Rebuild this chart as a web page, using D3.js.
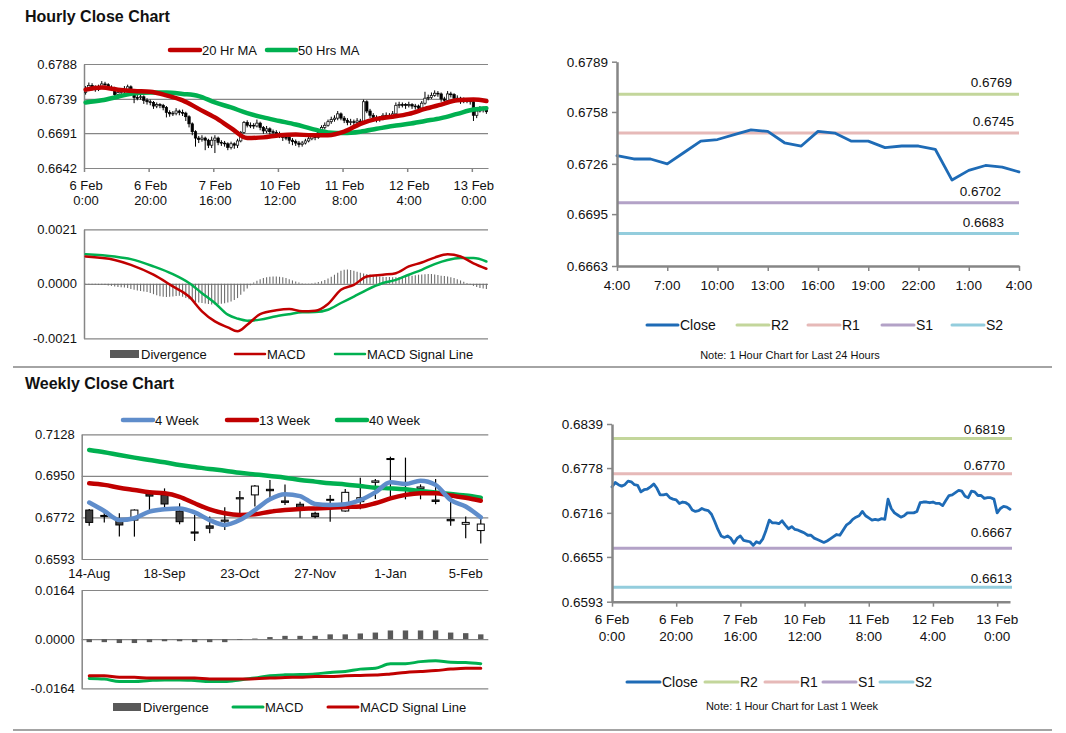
<!DOCTYPE html>
<html>
<head>
<meta charset="utf-8">
<script src="https://cdn.jsdelivr.net/npm/d3@7"></script>
<style>
  body { margin: 0; background: #fff; }
  svg text { font-family: "Liberation Sans", Arial, sans-serif; fill: #111; }
</style>
</head>
<body>
<svg id="chart"></svg>
<script>
const width = 1066;
const height = 733;

// ---- hourly data: 6 Feb 0:00 .. 13 Feb 4:00 (125 bars, weekend skipped)
const hourlyClose = [
  0.6752, 0.6758, 0.6755, 0.6753, 0.6755, 0.6760, 0.6759, 0.6755, 0.6754, 0.6745,
  0.6748, 0.6749, 0.6752, 0.6756, 0.6750, 0.6741, 0.6741, 0.6742, 0.6737, 0.6735,
  0.6734, 0.6729, 0.6731, 0.6730, 0.6727, 0.6720, 0.6718, 0.6719, 0.6722, 0.6720,
  0.6719, 0.6714, 0.6704, 0.6693, 0.6684, 0.6682, 0.6684, 0.6681, 0.6674, 0.6681,
  0.6684, 0.6678, 0.6677, 0.6676, 0.6671, 0.6676, 0.6674, 0.6680, 0.6692, 0.6706,
  0.6702, 0.6702, 0.6701, 0.6705, 0.6699, 0.6694, 0.6697, 0.6693, 0.6692, 0.6690,
  0.6688, 0.6685, 0.6685, 0.6681, 0.6679, 0.6677, 0.6675, 0.6677, 0.6680, 0.6683,
  0.6686, 0.6685, 0.6692, 0.6699, 0.6702, 0.6707, 0.6710, 0.6712, 0.6718, 0.6712,
  0.6709, 0.6706, 0.6707, 0.6706, 0.6708, 0.6707, 0.6735, 0.6722, 0.6716, 0.6713,
  0.6710, 0.6712, 0.6716, 0.6716, 0.6716, 0.6718, 0.6730, 0.6731, 0.6731, 0.6730,
  0.6731, 0.6729, 0.6729, 0.6726, 0.6733, 0.6740, 0.6741, 0.6744, 0.6747, 0.6746,
  0.6739, 0.6737, 0.6746, 0.6745, 0.6740, 0.6740, 0.6736, 0.6737, 0.6737, 0.6735,
  0.6716, 0.6722, 0.6725, 0.6724, 0.6721
];
const hourlyHigh = [
  0.6757, 0.6762, 0.6761, 0.6758, 0.6759, 0.6764, 0.6763, 0.6761, 0.6758, 0.6756,
  0.6751, 0.6752, 0.6757, 0.6759, 0.6758, 0.6752, 0.6745, 0.6746, 0.6744, 0.6740,
  0.6738, 0.6736, 0.6734, 0.6733, 0.6732, 0.6729, 0.6723, 0.6722, 0.6726, 0.6724,
  0.6724, 0.6721, 0.6716, 0.6706, 0.6695, 0.6687, 0.6688, 0.6686, 0.6683, 0.6686,
  0.6688, 0.6686, 0.6681, 0.6680, 0.6678, 0.6679, 0.6678, 0.6683, 0.6694, 0.6708,
  0.6709, 0.6706, 0.6705, 0.6710, 0.6707, 0.6701, 0.6701, 0.6699, 0.6696, 0.6695,
  0.6693, 0.6690, 0.6689, 0.6687, 0.6684, 0.6682, 0.6680, 0.6680, 0.6683, 0.6686,
  0.6689, 0.6689, 0.6695, 0.6702, 0.6706, 0.6710, 0.6714, 0.6716, 0.6722, 0.6720,
  0.6715, 0.6712, 0.6711, 0.6710, 0.6712, 0.6711, 0.6738, 0.6737, 0.6725, 0.6719,
  0.6716, 0.6715, 0.6719, 0.6720, 0.6719, 0.6722, 0.6734, 0.6735, 0.6734, 0.6733,
  0.6735, 0.6733, 0.6732, 0.6731, 0.6736, 0.6749, 0.6745, 0.6748, 0.6751, 0.6750,
  0.6748, 0.6742, 0.6750, 0.6749, 0.6747, 0.6744, 0.6742, 0.6741, 0.6740, 0.6739,
  0.6737, 0.6726, 0.6729, 0.6728, 0.6727
];
const hourlyLow = [
  0.6745, 0.6750, 0.6751, 0.6749, 0.6750, 0.6753, 0.6755, 0.6752, 0.6750, 0.6741,
  0.6742, 0.6745, 0.6747, 0.6750, 0.6746, 0.6733, 0.6737, 0.6738, 0.6732, 0.6731,
  0.6730, 0.6725, 0.6726, 0.6726, 0.6723, 0.6713, 0.6714, 0.6715, 0.6716, 0.6716,
  0.6715, 0.6708, 0.6699, 0.6688, 0.6672, 0.6677, 0.6679, 0.6667, 0.6670, 0.6670,
  0.6663, 0.6674, 0.6673, 0.6672, 0.6667, 0.6668, 0.6669, 0.6670, 0.6678, 0.6690,
  0.6699, 0.6698, 0.6697, 0.6699, 0.6695, 0.6690, 0.6691, 0.6689, 0.6688, 0.6686,
  0.6684, 0.6680, 0.6681, 0.6676, 0.6674, 0.6673, 0.6671, 0.6672, 0.6675, 0.6678,
  0.6681, 0.6681, 0.6683, 0.6690, 0.6696, 0.6700, 0.6704, 0.6707, 0.6709, 0.6709,
  0.6705, 0.6702, 0.6702, 0.6702, 0.6703, 0.6703, 0.6705, 0.6719, 0.6712, 0.6709,
  0.6706, 0.6707, 0.6709, 0.6712, 0.6712, 0.6713, 0.6715, 0.6726, 0.6727, 0.6725,
  0.6727, 0.6725, 0.6724, 0.6722, 0.6724, 0.6731, 0.6737, 0.6739, 0.6742, 0.6742,
  0.6735, 0.6733, 0.6735, 0.6741, 0.6736, 0.6736, 0.6732, 0.6733, 0.6733, 0.6731,
  0.6708, 0.6712, 0.6720, 0.6720, 0.6718
];
const firstOpen = 0.6748; // open of the first bar, later bars open at the previous close

const hourTickIdx = [0, 20, 40, 60, 80, 100, 120];
const hourTickLabels = [
  ["6 Feb", "0:00"], ["6 Feb", "20:00"], ["7 Feb", "16:00"], ["10 Feb", "12:00"],
  ["11 Feb", "8:00"], ["12 Feb", "4:00"], ["13 Feb", "0:00"]
];

// moving averages read every 5 bars
const maIdx = [0, 5, 10, 15, 20, 25, 30, 35, 40, 45, 50, 55, 60, 65, 70, 75, 80, 85, 90, 95, 100, 105, 110, 115, 120, 124];
const ma20 = [0.6752, 0.6755, 0.6752, 0.6750, 0.6749, 0.6744, 0.6737, 0.6725, 0.6713, 0.6698, 0.6684, 0.6685, 0.6688,
  0.6689, 0.6688, 0.6688, 0.6693, 0.6704, 0.6711, 0.6714, 0.6718, 0.6725, 0.6731, 0.6737, 0.6738, 0.6736];
const ma50 = [0.6734, 0.6737, 0.6742, 0.6747, 0.6748, 0.6748, 0.6746, 0.6743, 0.6734, 0.6727, 0.6719, 0.6713, 0.6708,
  0.6703, 0.6697, 0.6692, 0.6691, 0.6693, 0.6697, 0.6701, 0.6704, 0.6708, 0.6712, 0.6718, 0.6724, 0.6726];

// hourly MACD
const macdIdx = [0, 9, 14, 21, 27, 32, 36, 40, 44, 47, 50, 54, 59, 63, 67, 71, 75, 79, 83, 87, 92, 96, 100, 104, 108, 112, 116, 120, 124];
const hMacd = [0.00105, 0.00092, 0.00073, 0.00035, -0.0001, -0.00049, -0.00106, -0.00145, -0.00168, -0.00183,
  -0.00158, -0.00117, -0.00102, -0.00097, -0.00106, -0.00104, -0.00078, -0.00023, -0.00004, 0.00028,
  0.00035, 0.00041, 0.00067, 0.00082, 0.00101, 0.00114, 0.00105, 0.00079, 0.00058];
const hSignal = [0.00114, 0.00105, 0.00095, 0.00067, 0.00037, 0.00003, -0.00036, -0.00074, -0.00119, -0.00134,
  -0.00142, -0.00138, -0.00125, -0.00117, -0.0011, -0.00109, -0.001, -0.00074, -0.00049, -0.00023,
  0.00003, 0.00015, 0.00035, 0.00054, 0.00076, 0.00092, 0.00099, 0.00099, 0.00086];
const hDivergence = [
  -0.00002, -0.00002, -0.00003, -0.00003, -0.00004, -0.00004, -0.00005,
  -0.00007, -0.00008, -0.0001, -0.00012, -0.00013, -0.00014, -0.00016,
  -0.0002, -0.00023, -0.00026, -0.00028, -0.0003, -0.00032, -0.00035,
  -0.0004, -0.00044, -0.00048, -0.0005, -0.00051, -0.0005,
  -0.00049, -0.00047, -0.00046, -0.0005, -0.00055,
  -0.0006, -0.00065, -0.0007, -0.00072, -0.00074, -0.00076,
  -0.00078, -0.0008, -0.0008, -0.00079, -0.00077, -0.00075,
  -0.00072, -0.00068, -0.00062, -0.00055,
  -0.00042, -0.0003, -0.00018, -0.00006,
  0.00005, 0.00012, 0.00018, 0.00022, 0.00025,
  0.00027, 0.00028, 0.00028, 0.00027, 0.00025, 0.00022, 0.00018,
  0.00013, 0.00009, 0.00005,
  0.00002, 0.00001, 0.00001, 0.00002, 0.00004, 0.00007,
  0.0001, 0.00015, 0.0002, 0.00027, 0.00035, 0.00043,
  0.0005, 0.00054, 0.00055, 0.00053, 0.0005,
  0.00046, 0.00043, 0.0004, 0.00038, 0.00036, 0.00033,
  0.0003, 0.00028, 0.00027, 0.00026, 0.00026, 0.00025, 0.00025,
  0.00026, 0.00027, 0.00028, 0.0003, 0.00031, 0.00033, 0.00035,
  0.00036, 0.00037, 0.00038, 0.00038, 0.00036, 0.00034, 0.00031,
  0.0003, 0.00028, 0.00025, 0.00022, 0.00018, 0.00013,
  0.00008, 0.00003, -0.00003, -0.00008,
  -0.00012, -0.00016, -0.00018, -0.0002
];

// last 24 hours chart (12 Feb 4:00 .. 13 Feb 4:00)
const dayStart = 100;
const dayTickIdx = [0, 3, 6, 9, 12, 15, 18, 21, 24];
const dayTickLabels = ["4:00", "7:00", "10:00", "13:00", "16:00", "19:00", "22:00", "1:00", "4:00"];
const dayLevelNames = ["R2", "R1", "S1", "S2"];
const dayLevels = [0.6769, 0.6745, 0.6702, 0.6683];
const weekLevels = [0.6819, 0.6770, 0.6667, 0.6613];

// ---- weekly data
const weekDates = ["14-Aug", "21-Aug", "28-Aug", "4-Sep", "11-Sep", "18-Sep", "25-Sep", "2-Oct", "9-Oct",
  "16-Oct", "23-Oct", "30-Oct", "6-Nov", "13-Nov", "20-Nov", "27-Nov", "4-Dec", "11-Dec", "18-Dec",
  "25-Dec", "1-Jan", "8-Jan", "15-Jan", "22-Jan", "29-Jan", "5-Feb", "12-Feb"];
const weekTickIdx = [0, 5, 10, 15, 20, 25];
const wOpen = [0.6803, 0.6780, 0.6760, 0.6760, 0.6871, 0.6868, 0.6799, 0.6709, 0.6735, 0.6755, 0.6851, 0.6868, 0.6892,
  0.6842, 0.6828, 0.6789, 0.6845, 0.6799, 0.6839, 0.6922, 0.7021, 0.6917, 0.6896, 0.6846, 0.6763, 0.6742, 0.6715];
const wHigh = [0.6808, 0.6799, 0.6789, 0.6806, 0.6885, 0.6896, 0.6832, 0.6782, 0.6775, 0.6815, 0.6885, 0.6911, 0.6932,
  0.6913, 0.6839, 0.6796, 0.6868, 0.6893, 0.6942, 0.6936, 0.7032, 0.7028, 0.6913, 0.6936, 0.6879, 0.6775, 0.6768];
const wLow = [0.6736, 0.6750, 0.6689, 0.6689, 0.6799, 0.6810, 0.6742, 0.6670, 0.6703, 0.6717, 0.6782, 0.6818, 0.6850,
  0.6825, 0.6770, 0.6768, 0.6753, 0.6796, 0.6806, 0.6850, 0.6853, 0.6849, 0.6849, 0.6828, 0.6736, 0.6682, 0.6660];
const wClose = [0.6750, 0.6777, 0.6739, 0.6803, 0.6863, 0.6829, 0.6753, 0.6704, 0.6725, 0.6760, 0.6856, 0.6906, 0.6886,
  0.6836, 0.6813, 0.6775, 0.6849, 0.6879, 0.6856, 0.6928, 0.7024, 0.6914, 0.6902, 0.6840, 0.6757, 0.6750, 0.6743];
const wma4 = [0.6835, 0.6799, 0.6760, 0.6768, 0.6796, 0.6806, 0.6810, 0.6793, 0.6760, 0.6739, 0.6760, 0.6803, 0.6849,
  0.6871, 0.6863, 0.6829, 0.6825, 0.6828, 0.6846, 0.6879, 0.6922, 0.6915, 0.6929, 0.6911, 0.6846, 0.6818, 0.6772];
const wma13 = [0.6918, 0.6911, 0.6899, 0.6889, 0.6879, 0.6875, 0.6860, 0.6832, 0.6806, 0.6789, 0.6782, 0.6785, 0.6796,
  0.6803, 0.6808, 0.6810, 0.6813, 0.6816, 0.6818, 0.6832, 0.6853, 0.6868, 0.6875, 0.6875, 0.6865, 0.6856, 0.6843];
const wma40 = [0.7061, 0.7051, 0.7039, 0.7028, 0.7018, 0.7008, 0.6996, 0.6988, 0.6979, 0.6972, 0.6963, 0.6956, 0.6949,
  0.6942, 0.6932, 0.6925, 0.6918, 0.6913, 0.6906, 0.6899, 0.6896, 0.6892, 0.6885, 0.6878, 0.6872, 0.6865, 0.6856];
const wDivergence = [-0.0010, -0.0010, -0.0013, -0.0013, -0.0010, -0.0007, -0.0007, -0.0010, -0.0010, -0.0010, -0.0002,
  0.0002, 0.0007, 0.0011, 0.0011, 0.0011, 0.0016, 0.0016, 0.0019, 0.0022, 0.0029, 0.0029, 0.0029, 0.0029, 0.0022, 0.0020, 0.0016];
const wMacd = [-0.0131, -0.0133, -0.0141, -0.0141, -0.0138, -0.0136, -0.0136, -0.0138, -0.0141, -0.0141, -0.0136, -0.0130,
  -0.0122, -0.0119, -0.0118, -0.0116, -0.0111, -0.0108, -0.0100, -0.0097, -0.0082, -0.0082, -0.0075, -0.0072, -0.0077, -0.0078, -0.0082];
const wSignal = [-0.0122, -0.0122, -0.0127, -0.0127, -0.0130, -0.0130, -0.0130, -0.0130, -0.0133, -0.0133, -0.0133, -0.0132,
  -0.0130, -0.0128, -0.0127, -0.0125, -0.0125, -0.0122, -0.0121, -0.0120, -0.0116, -0.0111, -0.0108, -0.0105, -0.0100, -0.0097, -0.0097];

// ticks of the value axes
const hPriceTicks = [0.6642, 0.6691, 0.6739, 0.6788];
const hMacdTicks = [-0.0021, 0, 0.0021];
const dayTicks = [0.6663, 0.6695, 0.6726, 0.6758, 0.6789];
const wPriceTicks = [0.6593, 0.6772, 0.6950, 0.7128];
const wMacdTicks = [-0.0164, 0, 0.0164];
const weekTicks = [0.6593, 0.6655, 0.6716, 0.6778, 0.6839];

const RED = "#C00000";
const GREEN = "#00B050";
const BLUE = "#5F8DCB";
const CLOSE = "#1E6BB6";
const GRID = "#868686";
const levelColors = ["#C3D69B", "#E6B9B8", "#B3A2C7", "#93CDDD"];
const fmt = (d) => d.toFixed(4);

const svg = d3.select("#chart").attr("width", width).attr("height", height);

// y axis with gridlines across the plot
function gridAxis(y, ticks, x0, x1) {
  const g = svg.append("g")
    .attr("transform", `translate(${x0},0)`)
    .call(d3.axisLeft(y).tickValues(ticks).tickFormat(fmt)
      .tickSizeInner(-(x1 - x0)).tickSizeOuter(0).tickPadding(7));
  g.select(".domain").attr("stroke", GRID).attr("stroke-width", 1.5);
  g.selectAll(".tick line").attr("stroke", GRID).attr("stroke-width", 1.2);
  g.selectAll(".tick text").attr("font-size", 13);
  return g;
}

// y axis with outside tick marks only
function plainAxis(y, ticks, x0) {
  const g = svg.append("g")
    .attr("transform", `translate(${x0},0)`)
    .call(d3.axisLeft(y).tickValues(ticks).tickFormat(fmt).tickSizeInner(5).tickSizeOuter(0).tickPadding(4));
  g.select(".domain").attr("stroke", GRID).attr("stroke-width", 2.5);
  g.selectAll(".tick line").attr("stroke", GRID).attr("stroke-width", 1.5);
  g.selectAll(".tick text").attr("font-size", 13.5);
  return g;
}

// bottom axis with ticks, labels drawn separately
function bottomTicks(x, ticks, y0, size) {
  const g = svg.append("g")
    .attr("transform", `translate(0,${y0})`)
    .call(d3.axisBottom(x).tickValues(ticks).tickFormat("").tickSizeInner(size).tickSizeOuter(0));
  g.select(".domain").attr("stroke", GRID).attr("stroke-width", 2);
  g.selectAll(".tick line").attr("stroke", GRID).attr("stroke-width", 1.5);
  return g;
}

function twoLineLabels(xs, labels, y1, y2, size) {
  labels.forEach((l, k) => {
    const t = svg.append("text").attr("text-anchor", "middle").attr("font-size", size);
    t.append("tspan").attr("x", xs[k]).attr("y", y1).text(l[0]);
    t.append("tspan").attr("x", xs[k]).attr("y", y2).text(l[1]);
  });
}

function legendLine(x1, x2, y, color, w, label, size) {
  svg.append("line").attr("x1", x1).attr("x2", x2).attr("y1", y).attr("y2", y)
    .attr("stroke", color).attr("stroke-width", w).attr("stroke-linecap", "round");
  svg.append("text").attr("x", x2 + 2).attr("y", y + 4.5).attr("font-size", size || 13).text(label);
}

function legendBox(x1, x2, y, label) {
  svg.append("rect").attr("x", x1).attr("y", y - 4).attr("width", x2 - x1).attr("height", 8).attr("fill", "#595959");
  svg.append("text").attr("x", x2 + 2).attr("y", y + 4.5).attr("font-size", 13).text(label);
}

function drawLine(points, x, y, color, w, curve) {
  svg.append("path").datum(points)
    .attr("fill", "none").attr("stroke", color).attr("stroke-width", w)
    .attr("stroke-linejoin", "round").attr("stroke-linecap", "round")
    .attr("d", d3.line().x((d) => x(d[0])).y((d) => y(d[1])).curve(curve || d3.curveLinear));
}

// ---- headers and separators
svg.append("text").attr("x", 25).attr("y", 22).attr("font-size", 16).attr("font-weight", "bold").text("Hourly Close Chart");
svg.append("text").attr("x", 25).attr("y", 389).attr("font-size", 16).attr("font-weight", "bold").text("Weekly Close Chart");
[367, 730].forEach((yy) => {
  svg.append("line").attr("x1", 13).attr("x2", 1052).attr("y1", yy).attr("y2", yy)
    .attr("stroke", GRID).attr("stroke-width", 1.5);
});

// ---- hourly candles with moving averages
const xH = d3.scaleLinear().domain([0, hourlyClose.length]).range([84, 488]);
const yH = d3.scaleLinear().domain([0.6642, 0.6788]).range([168, 64]);
gridAxis(yH, hPriceTicks, 84, 488);
bottomTicks(xH, hourTickIdx, 168, 4).select(".domain").attr("stroke-width", 1.2);
twoLineLabels(hourTickIdx.map((i) => xH(i) + 2), hourTickLabels, 190, 205, 13);

const candles = svg.append("g");
hourlyClose.forEach((c, i) => {
  const o = i === 0 ? firstOpen : hourlyClose[i - 1];
  const cx = xH(i + 0.5);
  candles.append("line").attr("x1", cx).attr("x2", cx)
    .attr("y1", yH(hourlyHigh[i])).attr("y2", yH(hourlyLow[i]))
    .attr("stroke", "#000").attr("stroke-width", 1);
  const top = yH(Math.max(o, c));
  const h = Math.max(0.8, Math.abs(yH(o) - yH(c)));
  candles.append("rect").attr("x", cx - 1.2).attr("y", top).attr("width", 2.4).attr("height", h)
    .attr("fill", c > o ? "#fff" : "#000").attr("stroke", "#000").attr("stroke-width", 0.7);
});
drawLine(maIdx.map((i, k) => [i + 0.5, ma50[k]]), xH, yH, GREEN, 4.5, d3.curveMonotoneX);
drawLine(maIdx.map((i, k) => [i + 0.5, ma20[k]]), xH, yH, RED, 4.5, d3.curveMonotoneX);
legendLine(170, 200, 50, RED, 4.5, "20 Hr MA");
legendLine(267, 296, 50, GREEN, 4.5, "50 Hrs MA");

// ---- hourly MACD
const yHM = d3.scaleLinear().domain([-0.0021, 0.0021]).range([338.3, 229.3]);
gridAxis(yHM, hMacdTicks, 84, 488);
svg.append("g").selectAll("line").data(hDivergence).join("line")
  .attr("x1", (d, i) => xH(i + 0.5)).attr("x2", (d, i) => xH(i + 0.5))
  .attr("y1", yHM(0)).attr("y2", (d) => yHM(d))
  .attr("stroke", "#6e6e6e").attr("stroke-width", 1.1);
drawLine(macdIdx.map((i, k) => [i + 0.5, hSignal[k]]), xH, yHM, GREEN, 2.5, d3.curveMonotoneX);
drawLine(macdIdx.map((i, k) => [i + 0.5, hMacd[k]]), xH, yHM, RED, 2.5, d3.curveMonotoneX);
legendBox(110, 139, 354, "Divergence");
legendLine(235, 265, 354, RED, 2.5, "MACD");
legendLine(335, 365, 354, GREEN, 2.5, "MACD Signal Line");

// ---- last 24 hours with pivot levels
const dayClose = hourlyClose.slice(dayStart);
const xD = d3.scaleLinear().domain([0, 24]).range([617, 1019]);
const yD = d3.scaleLinear().domain([0.6663, 0.6789]).range([266, 61.7]);
dayLevels.forEach((v, k) => {
  svg.append("line").attr("x1", xD(0)).attr("x2", xD(24)).attr("y1", yD(v)).attr("y2", yD(v))
    .attr("stroke", levelColors[k]).attr("stroke-width", 3);
});
drawLine(dayClose.map((v, i) => [i, v]), xD, yD, CLOSE, 2.8);
plainAxis(yD, dayTicks, 617);
bottomTicks(xD, dayTickIdx, 266, 5).select(".domain").attr("stroke-width", 2.5);
dayTickIdx.forEach((i, k) => {
  svg.append("text").attr("x", xD(i)).attr("y", 290).attr("text-anchor", "middle").attr("font-size", 13.5).text(dayTickLabels[k]);
});
const dayLabelX = [1012, 1014, 1001, 1004];
dayLevels.forEach((v, k) => {
  svg.append("text").attr("x", dayLabelX[k]).attr("y", yD(v) - 7).attr("text-anchor", "end")
    .attr("font-size", 13.5).text(fmt(v));
});
legendLine(647, 678, 325, CLOSE, 3, "Close", 14);
dayLevelNames.forEach((n, k) => {
  const lx = [737, 808, 882, 952][k];
  legendLine(lx, lx + 32, 325, levelColors[k], 3, n, 14);
});
svg.append("text").attr("x", 790).attr("y", 359).attr("text-anchor", "middle").attr("font-size", 11)
  .text("Note: 1 Hour Chart for Last 24 Hours");

// ---- weekly candles with moving averages
const xW = d3.scaleLinear().domain([0, weekDates.length]).range([81.7, 488.3]);
const yW = d3.scaleLinear().domain([0.6593, 0.7128]).range([559, 434.3]);
gridAxis(yW, wPriceTicks, 81.7, 488.3);
weekTickIdx.forEach((i) => {
  svg.append("text").attr("x", xW(i + 0.5)).attr("y", 578).attr("text-anchor", "middle").attr("font-size", 13).text(weekDates[i]);
});
const wc = svg.append("g");
wClose.forEach((c, i) => {
  const o = wOpen[i];
  const cx = xW(i + 0.5);
  wc.append("line").attr("x1", cx).attr("x2", cx).attr("y1", yW(wHigh[i])).attr("y2", yW(wLow[i]))
    .attr("stroke", "#000").attr("stroke-width", 1.2);
  const top = yW(Math.max(o, c));
  const h = Math.max(1, Math.abs(yW(o) - yW(c)));
  wc.append("rect").attr("x", cx - 3.5).attr("y", top).attr("width", 7).attr("height", h)
    .attr("fill", c > o ? "#fff" : "#404040").attr("stroke", "#000").attr("stroke-width", 1);
});
drawLine(wma40.map((v, i) => [i + 0.5, v]), xW, yW, GREEN, 4.5, d3.curveMonotoneX);
drawLine(wma13.map((v, i) => [i + 0.5, v]), xW, yW, RED, 4.5, d3.curveMonotoneX);
drawLine(wma4.map((v, i) => [i + 0.5, v]), xW, yW, BLUE, 4.5, d3.curveMonotoneX);
legendLine(123, 153, 420, BLUE, 4.5, "4 Week");
legendLine(227, 257, 420, RED, 4.5, "13 Week");
legendLine(337, 367, 420, GREEN, 4.5, "40 Week");

// ---- weekly MACD
const yWM = d3.scaleLinear().domain([-0.0164, 0.0164]).range([688.3, 590]);
gridAxis(yWM, wMacdTicks, 81.7, 488.3);
svg.append("g").selectAll("rect").data(wDivergence).join("rect")
  .attr("x", (d, i) => xW(i + 0.5) - 2.7).attr("width", 5.4)
  .attr("y", (d) => Math.min(yWM(0), yWM(d))).attr("height", (d) => Math.abs(yWM(d) - yWM(0)))
  .attr("fill", "#595959");
drawLine(wMacd.map((v, i) => [i + 0.5, v]), xW, yWM, GREEN, 3, d3.curveMonotoneX);
drawLine(wSignal.map((v, i) => [i + 0.5, v]), xW, yWM, RED, 3, d3.curveMonotoneX);
legendBox(113, 141, 707, "Divergence");
legendLine(233, 263, 707, GREEN, 3, "MACD");
legendLine(328, 358, 707, RED, 3, "MACD Signal Line");

// ---- last week hourly close with pivot levels
const xL = d3.scaleLinear().domain([0, hourlyClose.length - 1]).range([612, 1010]);
const yL = d3.scaleLinear().domain([0.6593, 0.6839]).range([601.7, 424]);
weekLevels.forEach((v, k) => {
  svg.append("line").attr("x1", xL(0)).attr("x2", 1012).attr("y1", yL(v)).attr("y2", yL(v))
    .attr("stroke", levelColors[k]).attr("stroke-width", 3);
});
drawLine(hourlyClose.map((v, i) => [i, v]), xL, yL, CLOSE, 2.8);
plainAxis(yL, weekTicks, 612);
bottomTicks(xL, hourTickIdx, 601.7, 5).select(".domain").attr("stroke-width", 2.5);
twoLineLabels(hourTickIdx.map((i) => xL(i)), hourTickLabels, 624, 641, 13.5);
const weekLabelX = [1005, 1005, 1012, 1012];
weekLevels.forEach((v, k) => {
  svg.append("text").attr("x", weekLabelX[k]).attr("y", yL(v) - (k === 2 ? 11 : 4)).attr("text-anchor", "end")
    .attr("font-size", 13.5).text(fmt(v));
});
legendLine(627, 660, 682, CLOSE, 3, "Close", 14);
dayLevelNames.forEach((n, k) => {
  const lx = [705, 765, 823, 880][k];
  legendLine(lx, lx + 33, 682, levelColors[k], 3, n, 14);
});
svg.append("text").attr("x", 792).attr("y", 710).attr("text-anchor", "middle").attr("font-size", 11)
  .text("Note: 1 Hour Chart for Last 1 Week");
</script>
</body>
</html>
